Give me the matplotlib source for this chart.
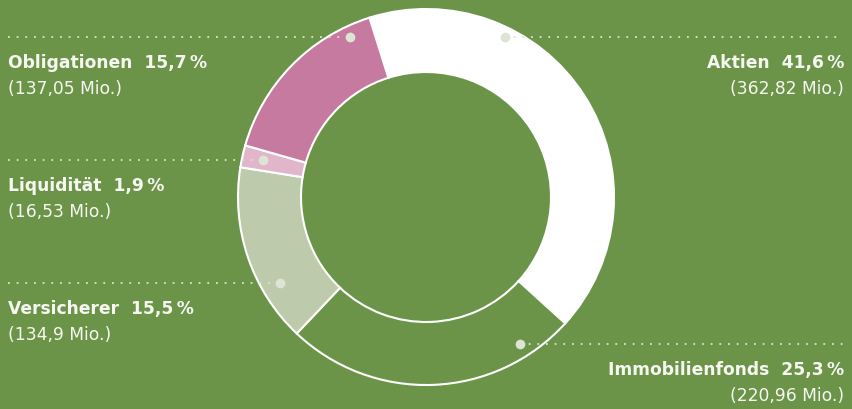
import matplotlib
matplotlib.use("Agg")
import matplotlib.pyplot as plt
import numpy as np

# data
names = ["Aktien", "Immobilienfonds", "Versicherer", "Liquidität", "Obligationen"]
mio = [362.82, 220.96, 134.9, 16.53, 137.05]
pct_labels = ["41,6", "25,3", "15,5", "1,9", "15,7"]
mio_labels = ["362,82", "220,96", "134,9", "16,53", "137,05"]

bg = "#6b9449"
colors = ["#ffffff", bg, "#bdcaab", "#e1b6cb", "#c77aa0"]

W, H = 853, 409
fig = plt.figure(figsize=(W / 100, H / 100), dpi=100)
fig.patch.set_facecolor(bg)
ax = fig.add_axes([0, 0, 1, 1])
ax.set_facecolor(bg)

cx, cy = 426, H - 197
R, ring = 188, 63
ax.pie(mio, colors=colors, startangle=107.5, counterclock=False,
       center=(cx, cy), radius=R, frame=True,
       wedgeprops=dict(width=ring, edgecolor="white", linewidth=1.5))
ax.set_xlim(0, W)
ax.set_ylim(0, H)
ax.axis("off")

# label layout: (line y, dot x, side)
layout = {
    "Aktien": (37, 505, "right"),
    "Immobilienfonds": (344, 520, "right"),
    "Versicherer": (283, 280, "left"),
    "Liquidität": (160, 263, "left"),
    "Obligationen": (37, 350, "left"),
}

font = "DejaVu Sans"
txtc = "#f7f7f2"
dotc = "#dde3d5"
for name, p, m in zip(names, pct_labels, mio_labels):
    ly, dx, side = layout[name]
    y = H - ly
    if side == "left":
        ax.plot([8, dx], [y, y], color=dotc, lw=1.3, ls=(0, (1, 3.8)))
        x, ha = 8, "left"
    else:
        ax.plot([dx, 843], [y, y], color=dotc, lw=1.3, ls=(0, (1, 3.8)))
        x, ha = 844, "right"
    ax.plot(dx, y, "o", ms=7, color=dotc, mec="none")
    ax.text(x, y - 26, f"{name}  {p}\u2009%", ha=ha, va="center",
            fontsize=12.3, fontweight="bold", color=txtc, family=font)
    ax.text(x, y - 52, f"({m} Mio.)", ha=ha, va="center",
            fontsize=12.3, color=txtc, family=font)

fig.savefig("out.png", dpi=100, facecolor=bg)
